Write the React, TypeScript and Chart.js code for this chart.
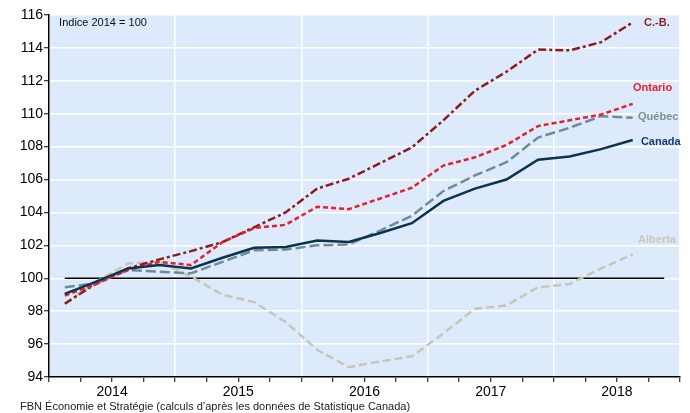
import React, { useEffect, useRef } from "react";
import { Chart, registerables } from "chart.js";

Chart.register(...registerables);

const quarters = [
  "2014T1", "2014T2", "2014T3", "2014T4",
  "2015T1", "2015T2", "2015T3", "2015T4",
  "2016T1", "2016T2", "2016T3", "2016T4",
  "2017T1", "2017T2", "2017T3", "2017T4",
  "2018T1", "2018T2", "2018T3", "2018T4",
];
const years = ["2014", "2015", "2016", "2017", "2018"];

const canada = [99.05, 99.8, 100.6, 100.8, 100.6, 101.25, 101.85, 101.9, 102.3, 102.2, 102.75, 103.35, 104.7, 105.45, 106.0, 107.2, 107.4, 107.85, 108.4];
const quebec = [99.45, 99.7, 100.5, 100.4, 100.3, 101.0, 101.7, 101.75, 102.0, 102.05, 102.9, 103.8, 105.3, 106.25, 107.05, 108.55, 109.15, 109.85, 109.75];
const ontario = [98.95, 99.65, 100.5, 101.0, 100.8, 102.2, 103.05, 103.25, 104.35, 104.2, 104.85, 105.5, 106.85, 107.35, 108.1, 109.25, 109.6, 109.95, 110.6];
const cb = [98.45, 99.7, 100.6, 101.15, 101.65, 102.2, 103.1, 104.0, 105.45, 106.05, 107.0, 107.95, 109.6, 111.4, 112.55, 113.9, 113.85, 114.35, 115.55];
const alberta = [98.45, 99.8, 100.9, 101.0, 100.1, 99.0, 98.55, 97.35, 95.65, 94.6, 94.95, 95.25, 96.65, 98.15, 98.35, 99.45, 99.65, 100.6, 101.45];
const baseline = [100, 100];

const yTicks = [94, 96, 98, 100, 102, 104, 106, 108, 110, 112, 114, 116];

const labelsRight = [
  { text: "C.-B.", color: "#8C1D1D", x: 18.86, y: 115.5 },
  { text: "Ontario", color: "#E8202A", x: 18.51, y: 111.56 },
  { text: "Québec", color: "#7A8E9B", x: 18.67, y: 109.8 },
  { text: "Canada", color: "#173A72", x: 18.76, y: 108.3 },
  { text: "Alberta", color: "#CAC7BD", x: 18.67, y: 102.32 },
];

const toXY = (arr: number[]) => arr.map((v, i) => ({ x: i + 0.5, y: v }));

export default function App() {
  const ref = useRef<HTMLCanvasElement | null>(null);

  useEffect(() => {
    if (!ref.current) return;
    const bgPlugin = {
      id: "bg",
      beforeDraw(chart: any) {
        const { ctx, chartArea } = chart;
        ctx.save();
        ctx.fillStyle = "#DDEAFB";
        ctx.fillRect(chartArea.left, chartArea.top, chartArea.right - chartArea.left, chartArea.bottom - chartArea.top);
        ctx.restore();
      },
      afterDraw(chart: any) {
        const { ctx, scales } = chart;
        const xs = scales.x;
        const ys = scales.y;
        ctx.save();
        ctx.textBaseline = "middle";
        ctx.textAlign = "left";
        ctx.font = "bold 11px Arial";
        for (const l of labelsRight) {
          ctx.fillStyle = l.color;
          ctx.fillText(l.text, xs.getPixelForValue(l.x), ys.getPixelForValue(l.y));
        }
        ctx.font = "11px Arial";
        ctx.fillStyle = "#111";
        ctx.fillText("Indice 2014 = 100", xs.getPixelForValue(0.32), ys.getPixelForValue(115.5));
        ctx.fillStyle = "#222";
        ctx.fillText("FBN Économie et Stratégie (calculs d’après les données de Statistique Canada)", 20, 407);
        ctx.restore();
      },
    };

    const chart = new Chart(ref.current, {
      type: "line",
      data: {
        labels: quarters,
        datasets: [
          { label: "Canada", data: toXY(canada), borderColor: "#0B3350", borderWidth: 2.5, pointRadius: 0, order: 1 },
          { label: "Ontario", data: toXY(ontario), borderColor: "#E5202E", borderWidth: 2.5, borderDash: [5, 3], pointRadius: 0, order: 2 },
          { label: "Québec", data: toXY(quebec), borderColor: "#6F8A99", borderWidth: 2.5, borderDash: [10, 4], pointRadius: 0, order: 3 },
          { label: "C.-B.", data: toXY(cb), borderColor: "#8C1D1D", borderWidth: 2.5, borderDash: [8, 3, 3, 3], pointRadius: 0, order: 4 },
          { label: "Alberta", data: toXY(alberta), borderColor: "#C8C5B9", borderWidth: 2.5, borderDash: [8, 4], pointRadius: 0, order: 5 },
          { label: "base", data: [{ x: 0.5, y: baseline[0] }, { x: 19.5, y: baseline[1] }], borderColor: "#000", borderWidth: 1.3, pointRadius: 0, order: 10 },
        ] as any,
      },
      options: {
        animation: false,
        responsive: false,
        events: [],
        layout: { padding: { left: 0, right: 10, top: 15, bottom: 0 } },
        plugins: { legend: { display: false }, tooltip: { enabled: false } },
        scales: {
          x: {
            type: "linear",
            min: 0,
            max: quarters.length,
            afterFit(scale: any) { scale.height = 36; },
            afterBuildTicks(scale: any) {
              scale.ticks = quarters.map((_, i) => ({ value: i })).concat([{ value: quarters.length }]);
            },
            ticks: {
              autoSkip: false,
              maxRotation: 0,
              padding: 2,
              color: "#000",
              font: { family: "Arial", size: 14 },
              callback: (v: any) => (Number(v) % 4 === 2 ? years[(Number(v) - 2) / 4] : ""),
            },
            grid: {
              color: (c: any) => (c.tick && c.tick.value % 4 === 0 ? "#FFFFFF" : "rgba(0,0,0,0)"),
              lineWidth: 1.5,
              tickColor: "#000",
              tickLength: 5,
              tickWidth: 1,
            },
            border: { color: "#000", width: 1.5 },
          },
          y: {
            min: 94,
            max: 116,
            afterFit(scale: any) { scale.width = 49; },
            afterBuildTicks(scale: any) {
              scale.ticks = yTicks.map((v) => ({ value: v }));
            },
            ticks: {
              padding: 1,
              color: "#000",
              font: { family: "Arial", size: 14 },
            },
            grid: {
              color: "#FFFFFF",
              lineWidth: 1.5,
              tickColor: "#000",
              tickLength: 5,
              tickWidth: 1,
            },
            border: { color: "#000", width: 1.5 },
          },
        },
      } as any,
      plugins: [bgPlugin],
    });
    return () => chart.destroy();
  }, []);

  return (
    <div style={{ position: "absolute", left: 0, top: 0, width: 690, height: 413, background: "#fff" }}>
      <canvas ref={ref} width={690} height={413} />
    </div>
  );
}
